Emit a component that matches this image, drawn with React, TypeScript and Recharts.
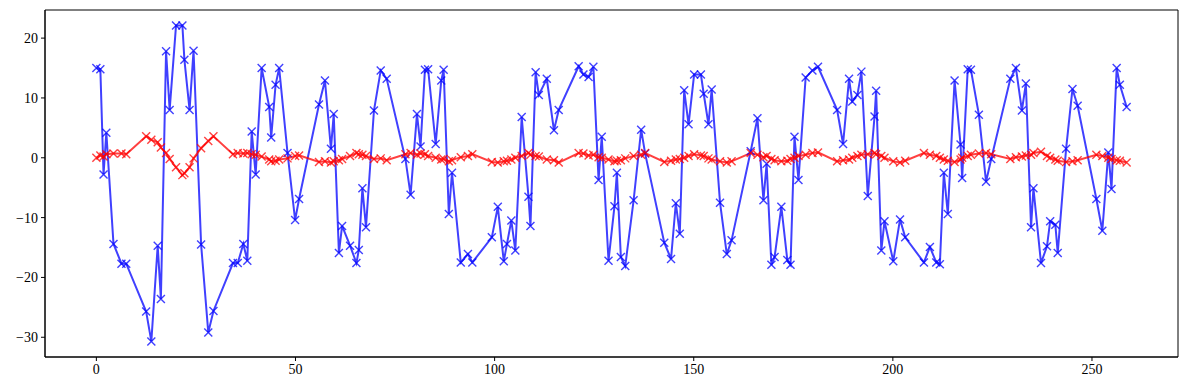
import { LineChart, Line, XAxis, YAxis, ReferenceArea } from 'recharts'

// sample positions shared by both series
const xs = [
  0, 1, 1.8, 2.5, 4.3, 6.3, 7.5, 12.5, 13.8, 15.4, 16.2, 17.5, 18.4, 20, 21.6, 22.1, 23.4, 24.4, 26.3, 28.1,
  29.4, 34.3, 35.5, 36.9, 37.9, 39, 40, 41.5, 43.4, 43.9, 45, 45.9, 48, 49.9, 50.9, 55.9, 57.4, 58.9, 59.6, 60.9,
  61.7, 63.7, 65.3, 65.9, 66.8, 67.7, 69.7, 71.4, 72.9, 77.6, 78.9, 80.5, 81.4, 82.5, 83.3, 85.2, 86.6, 87.2, 88.5, 89.3,
  91.5, 93.3, 94.4, 99.3, 100.8, 102.3, 103.1, 104.2, 105.2, 106.8, 108.5, 109, 110.3, 111.1, 113.1, 114.9, 116.1, 121.1, 122.3, 123.6,
  124.8, 126.1, 126.9, 128.6, 130.1, 130.7, 131.7, 132.8, 134.9, 136.8, 137.8, 142.6, 144.3, 145.5, 146.5, 147.6, 148.7, 150.1, 151.8, 152.5,
  153.7, 154.5, 156.6, 158.3, 159.5, 164.3, 166, 167.5, 168.3, 169.5, 170.3, 172, 173.5, 174.3, 175.3, 176.3, 178.1, 179.8, 181.2, 186,
  187.5, 189, 189.8, 191.1, 192.1, 193.7, 195.4, 195.8, 197.1, 197.9, 200.1, 201.8, 203.1, 207.8, 209.3, 210.9, 211.8, 212.8, 213.8, 215.5,
  217, 217.4, 218.8, 219.6, 221.6, 223.4, 224.7, 229.5, 230.9, 232.4, 233.4, 234.7, 235.3, 237.2, 238.7, 239.5, 240.8, 241.4, 243.5, 245.1,
  246.4, 251.1, 252.6, 254.1, 254.9, 256.2, 257, 258.7,
]

const blueValues = [
  15.0, 14.8, -2.8, 4.2, -14.4, -17.7, -17.7, -25.7, -30.7, -14.7, -23.6, 17.8, 8.0, 22.1, 22.1, 16.4, 8.0, 17.9, -14.5, -29.2,
  -25.6, -17.6, -17.6, -14.4, -17.2, 4.4, -2.8, 15.0, 8.5, 3.4, 12.2, 15.0, 0.8, -10.4, -6.9, 8.9, 12.9, 1.5, 7.3, -15.9,
  -11.4, -14.7, -17.6, -15.4, -5.1, -11.6, 7.9, 14.6, 13.2, -0.2, -6.2, 7.3, 1.9, 14.7, 14.8, 2.3, 12.9, 14.7, -9.4, -2.5,
  -17.5, -16.1, -17.5, -13.3, -8.2, -17.3, -14.4, -10.5, -15.5, 6.8, -6.5, -11.4, 14.3, 10.5, 13.2, 4.6, 8.0, 15.3, 13.9, 13.5,
  15.2, -3.7, 3.5, -17.2, -8.1, -2.5, -16.6, -18.1, -7.1, 4.7, 0.7, -14.2, -16.9, -7.6, -12.7, 11.3, 5.6, 13.9, 13.9, 10.7,
  5.6, 11.4, -7.5, -16.1, -13.8, 1.1, 6.6, -7.1, -1.0, -17.9, -16.6, -8.2, -17.1, -17.9, 3.5, -3.7, 13.4, 14.6, 15.2, 8.0,
  2.3, 13.2, 9.4, 10.5, 14.4, -6.4, 6.9, 11.2, -15.5, -10.6, -17.3, -10.3, -13.3, -17.5, -14.9, -17.5, -17.8, -2.5, -9.4, 12.9,
  2.2, -3.4, 14.8, 14.7, 7.2, -4.0, -0.2, 13.2, 15.0, 7.9, 12.4, -11.6, -5.1, -17.6, -14.8, -10.6, -11.2, -15.9, 1.5, 11.5,
  8.7, -6.9, -12.2, 0.9, -5.2, 15.0, 12.2, 8.5,
]

const redValues = [
  0.0, 0.4, 0.2, 0.6, 0.7, 0.7, 0.6, 3.6, 3.0, 2.6, 1.7, 0.8, -0.2, -1.6, -2.9, -2.6, -1.6, -0.1, 1.6, 2.8,
  3.6, 0.6, 0.8, 0.7, 0.8, 0.6, 0.5, 0.2, -0.3, -0.6, -0.5, -0.3, -0.1, 0.3, 0.4, -0.7, -0.6, -0.8, -0.6, -0.4,
  -0.2, 0.3, 0.8, 0.6, 0.5, 0.3, -0.2, -0.1, -0.4, 0.6, 0.8, 0.5, 0.7, 0.6, 0.3, 0.0, -0.3, -0.2, -0.6, -0.4,
  0.1, 0.3, 0.6, -0.7, -0.8, -0.6, -0.5, -0.3, 0.0, 0.3, 0.8, 0.5, 0.3, 0.2, -0.3, -0.4, -0.8, 0.8, 0.7, 0.4,
  0.5, 0.1, 0.0, -0.3, -0.6, -0.5, -0.4, -0.1, 0.3, 0.5, 0.8, -0.7, -0.5, -0.3, -0.2, 0.0, 0.3, 0.6, 0.4, 0.3,
  -0.1, -0.3, -0.6, -0.8, -0.6, 0.8, 0.5, 0.1, 0.3, -0.2, -0.4, -0.6, -0.5, -0.2, 0.0, 0.3, 0.5, 0.8, 0.9, -0.6,
  -0.4, -0.3, 0.0, 0.3, 0.5, 0.6, 0.8, 0.6, 0.3, 0.0, -0.6, -0.8, -0.5, 0.8, 0.5, 0.3, 0.0, -0.3, -0.5, -0.7,
  -0.3, 0.0, 0.3, 0.5, 0.7, 0.8, 0.6, -0.2, 0.1, 0.2, 0.4, 0.5, 0.8, 1.0, 0.3, 0.0, -0.3, -0.5, -0.7, -0.6,
  -0.4, 0.5, 0.3, 0.0, -0.2, -0.4, -0.5, -0.8,
]

const xTicks = [0, 50, 100, 150, 200, 250]
const yTicks = [-30, -20, -10, 0, 10, 20]
const xDomain: [number, number] = [-12.9, 271.6]
const yDomain: [number, number] = [-33.3, 24.7]

const data = xs.map((x, i) => ({ x, blue: blueValues[i], red: redValues[i] }))

const BLUE = 'rgba(0,0,255,0.75)'
const RED = 'rgba(255,0,0,0.75)'
const FONT = "'Liberation Serif', 'DejaVu Serif', serif"

function cross(color: string) {
  return (props: any) => {
    const { cx, cy, index } = props
    if (cx == null || cy == null) return <g key={index} />
    const r = 4
    return (
      <path
        key={index}
        d={`M${cx - r},${cy - r}L${cx + r},${cy + r}M${cx - r},${cy + r}L${cx + r},${cy - r}`}
        stroke={color}
        strokeWidth={1.4}
        fill="none"
      />
    )
  }
}

const fmt = (v: number) => String(v).replace('-', '\u2212')

export default function App() {
  return (
    <div style={{ position: 'absolute', left: 0, top: 0, background: '#fff', fontFamily: FONT }}>
      <LineChart
        width={1189}
        height={390}
        data={data}
        margin={{ top: 10, right: 11, left: 0, bottom: 0 }}
        style={{ fontFamily: FONT }}
      >
        <XAxis
          dataKey="x"
          type="number"
          domain={xDomain}
          ticks={xTicks}
          height={33}
          tickSize={4}
          tickMargin={3}
          tick={{ fill: '#000', fontSize: 14, fontFamily: FONT, style: { fontFamily: FONT } }}
          tickLine={{ stroke: '#000' }}
          axisLine={{ stroke: '#000', strokeWidth: 1 }}
        />
        <YAxis
          type="number"
          domain={yDomain}
          ticks={yTicks}
          width={45}
          tickSize={4}
          tickMargin={3}
          tickFormatter={fmt}
          tick={{ fill: '#000', fontSize: 14, fontFamily: FONT, style: { fontFamily: FONT } }}
          tickLine={{ stroke: '#000' }}
          axisLine={{ stroke: '#000', strokeWidth: 1 }}
        />
        <ReferenceArea
          x1={xDomain[0]}
          x2={xDomain[1]}
          y1={yDomain[0]}
          y2={yDomain[1]}
          fill="none"
          stroke="#000"
          strokeWidth={1}
          ifOverflow="visible"
        />
        <Line
          type="linear"
          dataKey="blue"
          stroke={BLUE}
          strokeWidth={2}
          dot={cross(BLUE)}
          activeDot={false}
          isAnimationActive={false}
        />
        <Line
          type="linear"
          dataKey="red"
          stroke={RED}
          strokeWidth={2}
          dot={cross(RED)}
          activeDot={false}
          isAnimationActive={false}
        />
      </LineChart>
    </div>
  )
}
